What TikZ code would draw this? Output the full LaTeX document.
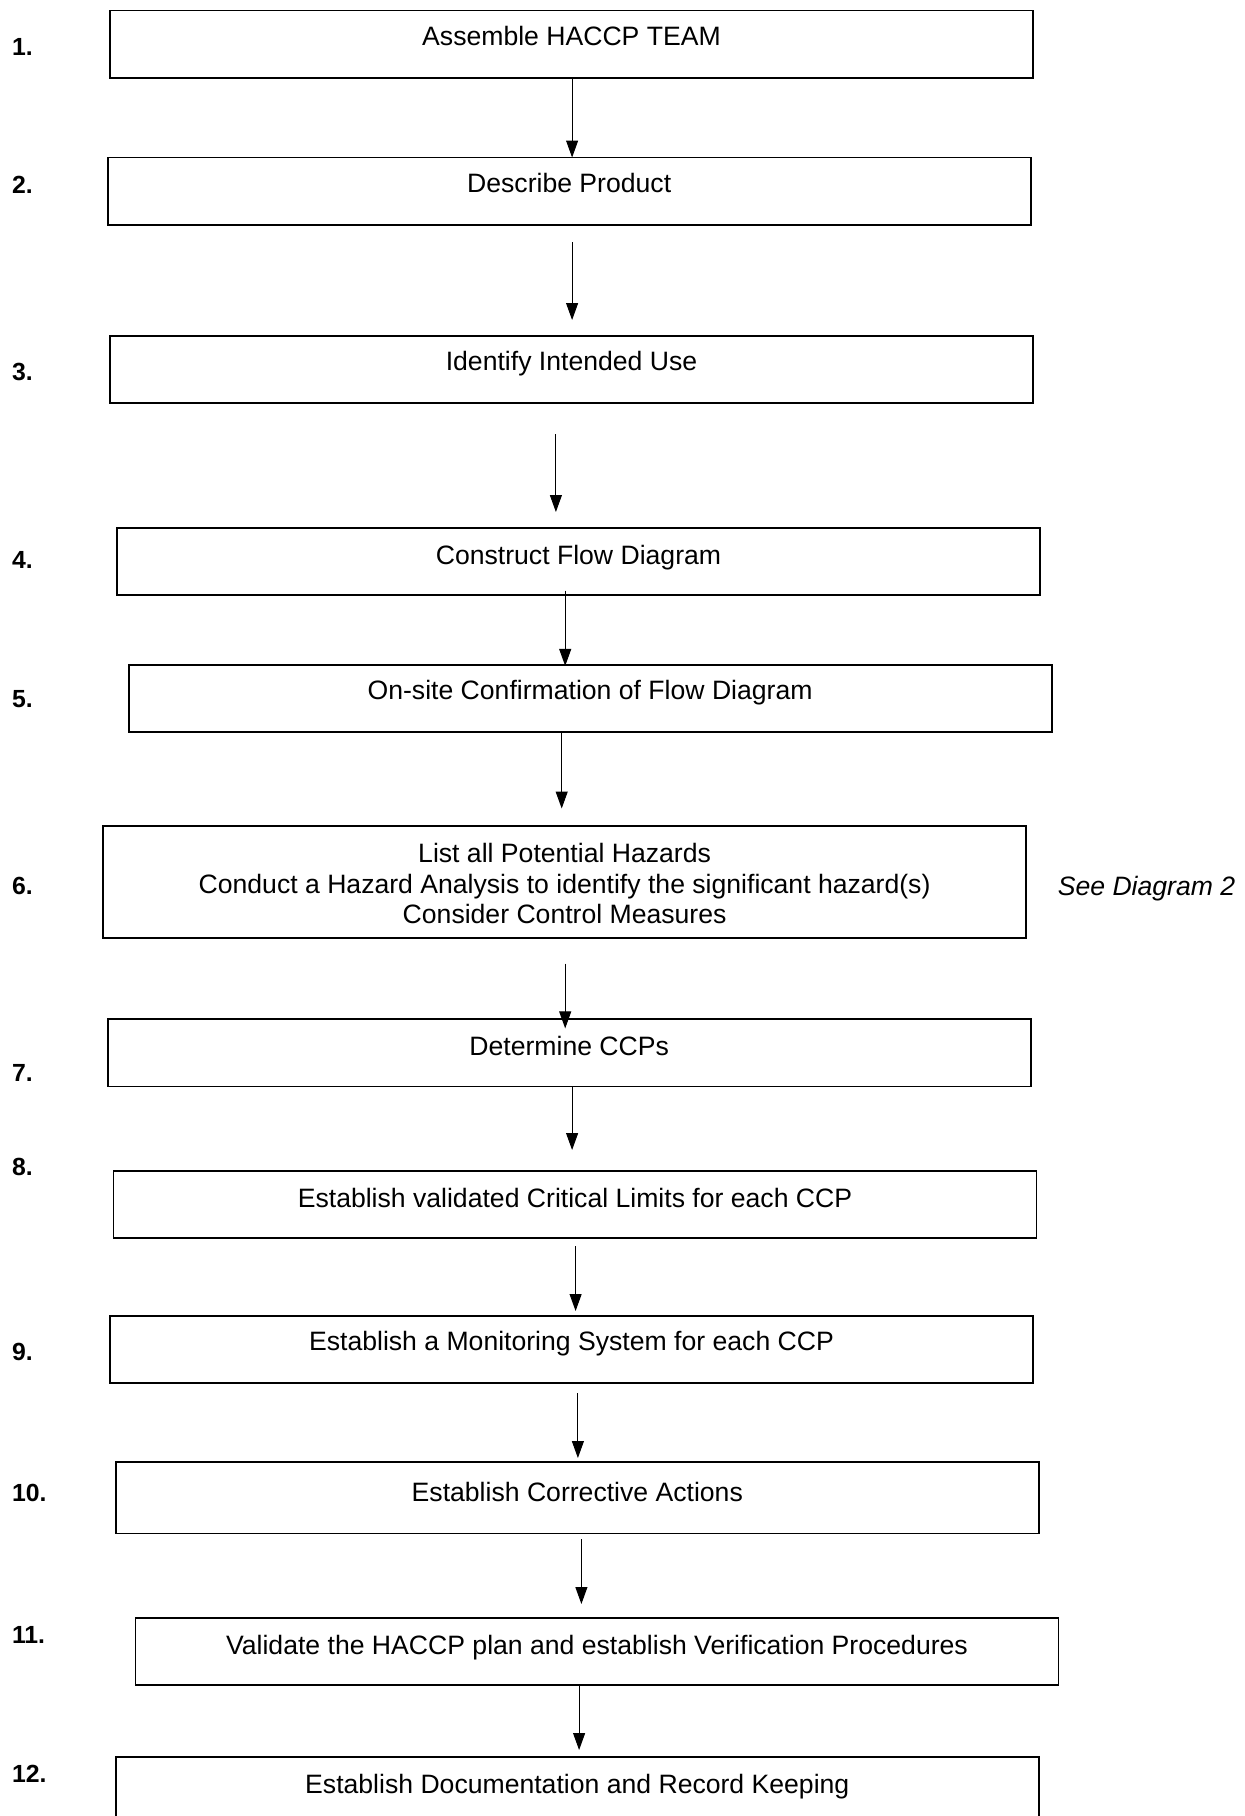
\documentclass[tikz,border=0pt]{standalone}
\usepackage{fontspec}
\setmainfont{Liberation Sans}
\usetikzlibrary{arrows.meta}
\begin{document}
\begin{tikzpicture}[x=0.5pt,y=-0.5pt,
  font=\fontsize{13.3}{16}\selectfont,
  stepbox/.style={draw,line width=0.9pt,minimum width=461.5pt,minimum height=33.6pt,inner sep=0pt,outer sep=0pt,anchor=north west},
  txt/.style={inner sep=0pt,anchor=base},
  lbl/.style={inner sep=0pt,anchor=base west,font=\fontsize{12.4}{15}\selectfont\bfseries},
  flow/.style={line width=0.5pt,-{Triangle[width=6pt,length=8.5pt]}}]
\useasboundingbox (0,0) rectangle (1245,1816);
% boxes
\node[stepbox] (b1) at (110.0,10.4) {};
\node[stepbox] (b2) at (107.7,157.5) {};
\node[stepbox] (b3) at (110.0,335.9) {};
\node[stepbox] (b4) at (117.0,528.1) {};
\node[stepbox] (b5) at (128.6,664.8) {};
\node[stepbox,minimum height=56.2pt] (b6) at (103.1,825.8) {};
\node[stepbox] (b7) at (107.7,1019.2) {};
\node[stepbox] (b8) at (113.5,1170.9) {};
\node[stepbox] (b9) at (110.0,1315.6) {};
\node[stepbox,minimum height=35.9pt] (b10) at (115.8,1461.6) {};
\node[stepbox] (b11) at (135.5,1617.9) {};
\node[stepbox,minimum height=40pt] (b12) at (115.8,1756.9) {};
% texts
\node[txt] (t1) at (571.5,45.5) {Assemble HACCP TEAM};
\node[txt] (t2) at (569.2,192.6) {Describe Product};
\node[txt] (t3) at (571.5,370.9) {Identify Intended Use};
\node[txt] (t4) at (578.5,564.3) {Construct Flow Diagram};
\node[txt] (t5) at (590.1,699.9) {On-site Confirmation of Flow Diagram};
\node[txt] (t6a) at (564.6,862.0) {List all Potential Hazards};
\node[txt] (t6b) at (564.6,893.3) {Conduct a Hazard Analysis to identify the significant hazard(s)};
\node[txt] (t6c) at (564.6,923.4) {Consider Control Measures};
\node[txt] (t7) at (569.2,1055.4) {Determine CCPs};
\node[txt] (t8) at (575.0,1207.1) {Establish validated Critical Limits for each CCP};
\node[txt] (t9) at (571.5,1350.7) {Establish a Monitoring System for each CCP};
\node[txt] (t10) at (577.3,1501.3) {Establish Corrective Actions};
\node[txt] (t11) at (597.0,1654.2) {Validate the HACCP plan and establish Verification Procedures};
\node[txt] (t12) at (577.3,1793.1) {Establish Documentation and Record Keeping};
\node[txt,anchor=base west,font=\fontsize{13.3}{16}\selectfont\itshape] (see) at (1057.4,895.6) {See Diagram 2};
% step labels
\node[lbl] (l1) at (11.6,55.2) {1.};
\node[lbl] (l2) at (11.6,193.0) {2.};
\node[lbl] (l3) at (11.6,380.7) {3.};
\node[lbl] (l4) at (11.6,568.3) {4.};
\node[lbl] (l5) at (11.6,707.3) {5.};
\node[lbl] (l6) at (11.6,894.9) {6.};
\node[lbl] (l7) at (11.6,1081.3) {7.};
\node[lbl] (l8) at (11.6,1175.1) {8.};
\node[lbl] (l9) at (11.6,1360.5) {9.};
\node[lbl] (l10) at (11.6,1501.7) {10.};
\node[lbl] (l11) at (11.6,1643.0) {11.};
\node[lbl] (l12) at (11.6,1782.0) {12.};
% arrow end points
\coordinate (s1) at (572.1,77.6);   \coordinate (e1) at (572.1,157.5);
\coordinate (s2) at (572.1,242.0);  \coordinate (e2) at (572.1,320.0);
\coordinate (s3) at (555.9,434.3);  \coordinate (e3) at (555.9,512.0);
\coordinate (s4) at (565.2,590.7);  \coordinate (e4) at (565.2,665.9);
\coordinate (s5) at (561.7,731.9);  \coordinate (e5) at (561.7,808.5);
\coordinate (s6) at (565.2,963.6);  \coordinate (e6) at (565.2,1028.4);
\coordinate (s7) at (572.1,1086.3); \coordinate (e7) at (572.1,1150.0);
\coordinate (s8) at (575.6,1246.2); \coordinate (e8) at (575.6,1311.0);
\coordinate (s9) at (577.9,1393.2); \coordinate (e9) at (577.9,1458.0);
\coordinate (s10) at (581.4,1539.2); \coordinate (e10) at (581.4,1604.0);
\coordinate (s11) at (579.1,1685.1); \coordinate (e11) at (579.1,1750.0);
\foreach \i in {1,...,11} \draw[flow] (s\i) -- (e\i);
\end{tikzpicture}
\end{document}
